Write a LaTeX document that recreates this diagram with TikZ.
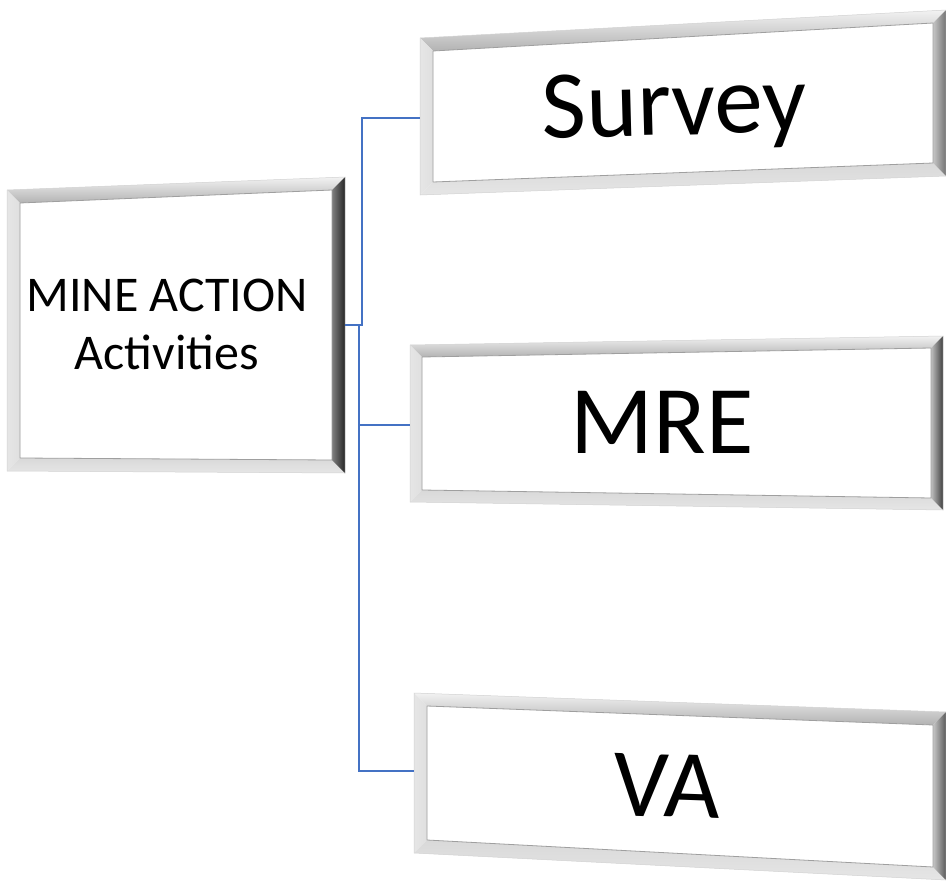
\documentclass[tikz,border=0pt]{standalone}
\usepackage{fontspec}
\setmainfont{Carlito}
\usetikzlibrary{calc}
\definecolor{conn}{HTML}{4472C4}
\tikzset{
  conline/.style={draw=conn, line width=1.3pt},
  bigtext/.style={font=\fontsize{97}{100}\selectfont, anchor=base, inner sep=0pt},
}
% #1 name, #2 TL, #3 TR, #4 BR, #5 BL, #6 bevel width, #7 right-edge inner colour, #8 right-edge outer colour
\newcommand\bevbox[8]{%
  \coordinate (#1-tl) at (#2); \coordinate (#1-tr) at (#3);
  \coordinate (#1-br) at (#4); \coordinate (#1-bl) at (#5);
  \coordinate (#1-itl) at ($(#1-tl)+(#6,#6)$);
  \coordinate (#1-itr) at ($(#1-tr)+(-#6,#6)$);
  \coordinate (#1-ibr) at ($(#1-br)+(-#6,-#6)$);
  \coordinate (#1-ibl) at ($(#1-bl)+(#6,-#6)$);
  \fill[white] (#1-itl)--(#1-itr)--(#1-ibr)--(#1-ibl)--cycle;
  \shade[top color=gray!10, bottom color=gray!60] (#1-tl)--(#1-tr)--(#1-itr)--(#1-itl)--cycle;
  \shade[left color=gray!20, middle color=gray!65, right color=gray!25] (#1-tl)--(#1-itl)--(#1-ibl)--(#1-bl)--cycle;
  \shade[top color=gray!30, middle color=gray!65, bottom color=gray!20] (#1-bl)--(#1-ibl)--(#1-ibr)--(#1-br)--cycle;
  \shade[left color=#7, right color=#8] (#1-tr)--(#1-br)--(#1-ibr)--(#1-itr)--cycle;
  \draw[gray!75, line width=0.8pt] (#1-itl)--(#1-itr)--(#1-ibr)--(#1-ibl)--cycle;
  \draw[gray!35, line width=0.5pt] (#1-tl)--(#1-tr)--(#1-br)--(#1-bl)--cycle;
}
\begin{document}
\begin{tikzpicture}[x=1pt,y=-1pt]
\useasboundingbox[fill=white] (0,0) rectangle (946,881);

% boxes
\bevbox{main}{7,190}{345,177}{345,473}{7,471}{13}{black!50}{black!85}
\bevbox{sur}{420,38}{946,10}{946,176}{420,195}{13}{gray!45}{black!55}
\bevbox{mre}{410,345}{943,336}{943,510}{410,502}{12}{gray!50}{black!75}
\bevbox{va}{414,693}{946,712}{946,880}{414,853}{13}{gray!45}{black!65}

% texts
\node[align=center, font=\fontsize{50}{58}\selectfont, inner sep=0pt] (main) at (167,324) {MINE ACTION\\Activities};
\node[bigtext, rotate=1.5] (survey) at (675,135) {Survey};
\node[bigtext] (mre) at (662,453) {MRE};
\node[bigtext, rotate=-2] (va) at (666,817) {VA};

% connector endpoints
\coordinate (main-e) at (345,325);
\coordinate (sur-w) at (420,118);
\coordinate (mre-w) at (410,425);
\coordinate (va-w) at (414,771);

\draw[conline] (main-e) -- ++(17,0) |- (sur-w);
\draw[conline] (main-e) ++(14,0) coordinate (trunk) |- (mre-w);
\draw[conline] (trunk) |- (va-w);
\end{tikzpicture}
\end{document}
